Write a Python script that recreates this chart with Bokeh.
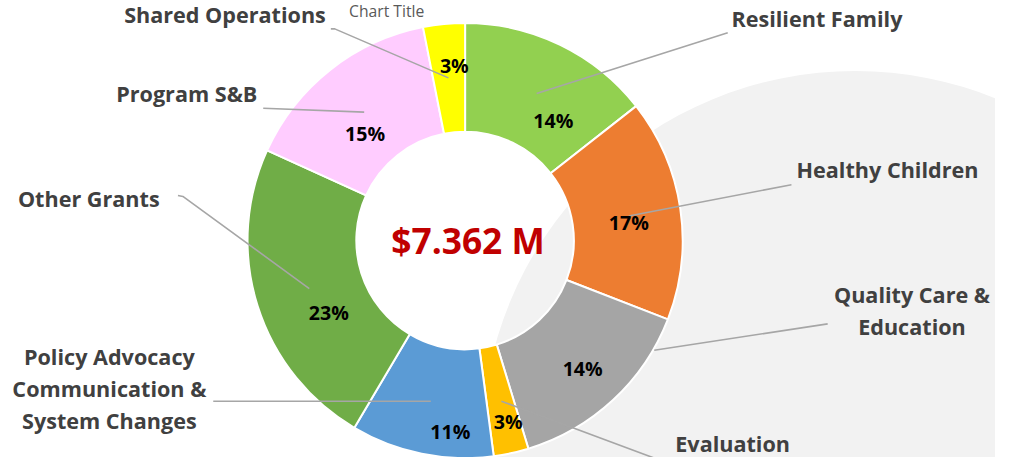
import numpy as np
from bokeh.plotting import figure
from bokeh.models import Range1d, ColumnDataSource
from bokeh.core.properties import value
from bokeh.embed import file_html
from bokeh.resources import INLINE

# ---------------- data ----------------
categories = ["Resilient Family", "Healthy Children", "Quality Care & Education", "Evaluation",
              "Policy Advocacy Communication & System Changes", "Other Grants", "Program S&B",
              "Shared Operations"]
shares = [14.4, 16.5, 14.4, 2.6, 10.6, 23.3, 15.1, 3.1]
pct_labels = ["14%", "17%", "14%", "3%", "11%", "23%", "15%", "3%"]
label_lines = [["Resilient Family"], ["Healthy Children"], ["Quality Care &", "Education"],
               ["Evaluation"], ["Policy Advocacy", "Communication &", "System Changes"],
               ["Other Grants"], ["Program S&B"], ["Shared Operations"]]
colors = ["#92D050", "#ED7D31", "#A5A5A5", "#FFC000", "#5B9BD5", "#70AD47", "#FFCCFF", "#FFFF00"]
total_label = "$7.362 M"
title_text = "Chart Title"

# ---------------- layout (reference pixel coords, y down) ----------------
H = 473
def Y(y):
    return H - y

W_PX, H_PX = 995, 457
S = 0.98            # px per unit
OX, OY = 4.0, -3.0  # pixel offsets

CX, CY = 470, 248
R_IN, R_OUT = 111, 222
BG_C, BG_R = (868, 456), 381

pct_pos = [(560, 125), (637, 230), (590, 379), (514, 433), (455, 443), (331, 321), (368, 139), (459, 69)]
cat_pos = [(829, 21), (901, 175), (926, 319), (743, 455), (107, 399), (86, 205), (186, 98), (225, 17)]
LINE_GAP = 32.5
leaders = [
    [(738, 36), (543, 98)],
    [(803, 191), (637, 223)],
    [(840, 333), (663, 360)],
    [(690, 480), (507, 412)],
    [(213, 412), (435, 412)],
    [(177, 202), (182, 203), (311, 297)],
    [(264, 113), (367, 117)],
    [(333, 32), (337, 32), (453, 82)],
]

FONT = value("Open Sans")

x0 = -OX / S
x1 = (W_PX - OX) / S
ytop_ref = -OY / S
ybot_ref = (H_PX - OY) / S

p = figure(width=W_PX, height=H_PX, x_range=Range1d(x0, x1), y_range=Range1d(Y(ybot_ref), Y(ytop_ref)),
           output_backend="svg", toolbar_location=None, x_axis_type=None, y_axis_type=None,
           min_border=0, min_border_left=0, min_border_right=0, min_border_top=0, min_border_bottom=0)
p.grid.visible = False
p.outline_line_color = None
p.background_fill_color = "white"
p.border_fill_color = "white"

def fs(px):
    return f"{px * S:.1f}px"

# background decorative circle
p.circle(x=[BG_C[0]], y=[Y(BG_C[1])], radius=BG_R, fill_color="#F2F2F2", line_color=None)

# donut
fr = np.array(shares, dtype=float) / np.sum(shares)
cum = np.concatenate([[0.0], np.cumsum(fr)])
src = ColumnDataSource(dict(
    cat=categories,
    start=np.pi / 2 - 2 * np.pi * cum[1:],
    end=np.pi / 2 - 2 * np.pi * cum[:-1],
    color=colors,
))
p.annular_wedge(x=CX, y=Y(CY), inner_radius=R_IN, outer_radius=R_OUT,
                start_angle="start", end_angle="end", fill_color="color",
                line_color="white", line_width=2, source=src)

# leader lines
p.multi_line(xs=[[pt[0] for pt in l] for l in leaders],
             ys=[[Y(pt[1]) for pt in l] for l in leaders],
             line_color="#A6A6A6", line_width=1.6)

# percentage labels
p.text(x=[q[0] for q in pct_pos], y=[Y(q[1]) for q in pct_pos], text=pct_labels,
       text_font=FONT, text_font_style="bold", text_font_size=fs(20), text_color="black",
       text_align="center", text_baseline="middle")

# category labels
lx, ly, lt = [], [], []
for (x, y), lines in zip(cat_pos, label_lines):
    n = len(lines)
    for i, t in enumerate(lines):
        lx.append(x)
        ly.append(Y(y + (i - (n - 1) / 2) * LINE_GAP))
        lt.append(t)
p.text(x=lx, y=ly, text=lt, text_font=FONT, text_font_style="bold", text_font_size=fs(22),
       text_color="#404040", text_align="center", text_baseline="middle")

# center total
p.text(x=[CX + 3], y=[Y(CY - 1)], text=[total_label], text_font=FONT, text_font_style="bold",
       text_font_size=fs(36), text_color="#C00000", text_align="center", text_baseline="middle")

# chart title
p.text(x=[390], y=[Y(14)], text=[title_text], text_font=FONT, text_font_size=fs(16),
       text_color="#595959", text_align="center", text_baseline="middle")

open("out.html", "w").write(file_html(p, INLINE))
